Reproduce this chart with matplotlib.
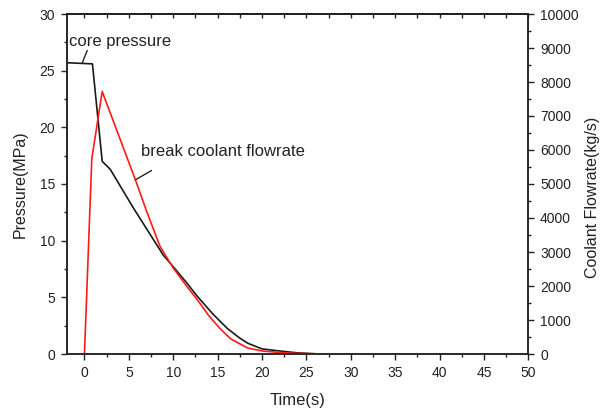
import matplotlib
matplotlib.use("Agg")
import matplotlib.pyplot as plt
from matplotlib.ticker import MultipleLocator

plt.rcParams['font.family'] = ['Liberation Sans', 'DejaVu Sans']

# Core pressure (MPa) vs time (s)
time_p = [-2, 0.9, 2.0, 2.9, 5.5, 8.9, 10.0, 11.5, 12.7, 14.5, 16.1, 17.5, 18.4, 20, 22.2, 24, 26, 27]
pressure = [25.7, 25.6, 17.0, 16.3, 12.9, 8.7, 7.7, 6.3, 5.1, 3.5, 2.25, 1.4, 0.95, 0.45, 0.25, 0.1, 0.02, 0.0]

# Break coolant flowrate (kg/s) vs time (s)
time_f = [0, 0.83, 2.0, 5.7, 7.0, 8.5, 10.0, 11.5, 12.7, 14.0, 15.3, 16.5, 18.4, 20, 22.2, 24, 27]
flowrate = [0, 5750, 7720, 5150, 4200, 3170, 2530, 2000, 1600, 1130, 740, 440, 175, 90, 40, 17, 0]

x_ticks = [0, 5, 10, 15, 20, 25, 30, 35, 40, 45, 50]
p_ticks = [0, 5, 10, 15, 20, 25, 30]
f_ticks = [0, 1000, 2000, 3000, 4000, 5000, 6000, 7000, 8000, 9000, 10000]

W, H = 601, 412
fig = plt.figure(figsize=(W / 100, H / 100), dpi=100)
L, R, T, B = 66.7, 528.3, 14, 354
ax = fig.add_axes([L / W, 1 - B / H, (R - L) / W, (B - T) / H])
ax2 = ax.twinx()

ax.plot(time_p, pressure, color='#1a1a1a', lw=1.2, zorder=3)
ax2.plot(time_f, flowrate, color='#ff1a1a', lw=1.2, zorder=2)

ax.set_xlim(-2, 50)
ax.set_ylim(0, 30)
ax2.set_ylim(0, 10000)
ax.set_xticks(x_ticks)
ax.set_yticks(p_ticks)
ax2.set_yticks(f_ticks)
ax.xaxis.set_minor_locator(MultipleLocator(2.5))
ax.yaxis.set_minor_locator(MultipleLocator(2.5))
ax2.yaxis.set_minor_locator(MultipleLocator(500))

tc = '#222222'
for a in (ax, ax2):
    for s in a.spines.values():
        s.set_linewidth(1.1)
        s.set_color(tc)

ax.tick_params(axis='both', which='major', direction='out', length=4, width=1.0,
               labelsize=10, pad=4.5, colors=tc, top=False)
ax.tick_params(axis='both', which='minor', direction='out', length=2.5, width=1.0,
               colors=tc, top=False)
ax2.tick_params(axis='y', which='major', direction='out', length=4, width=1.0,
                labelsize=10, pad=4.5, colors=tc)
ax2.tick_params(axis='y', which='minor', direction='out', length=2.5, width=1.0, colors=tc)

sec = ax.secondary_xaxis('top')
sec.set_xticks(x_ticks)
sec.xaxis.set_minor_locator(MultipleLocator(2.5))
sec.tick_params(which='both', direction='in', length=3, width=1.0, labeltop=False, colors=tc)
sec.spines['top'].set_linewidth(1.1)

# annotations
ax.text(-1.69, 27.6, 'core pressure', fontsize=12, va='center', ha='left', color=tc)
ax.plot([-0.26, 0.30], [25.65, 26.77], color=tc, lw=1.0)
ax.text(6.4, 17.85, 'break coolant flowrate', fontsize=12, va='center', ha='left', color=tc)
ax.plot([5.72, 7.53], [15.36, 16.18], color=tc, lw=1.0)

# axis labels
fig.text(20 / W, 1 - 184 / H, 'Pressure(MPa)', rotation=90, ha='center', va='center',
         fontsize=11.5, color=tc)
fig.text(593 / W, 1 - 197 / H, 'Coolant Flowrate(kg/s)', rotation=90, ha='center',
         va='center', fontsize=11.5, color=tc)
fig.text(298 / W, 1 - 401 / H, 'Time(s)', ha='center', va='center', fontsize=12, color=tc)

fig.savefig('out.png', dpi=100)
